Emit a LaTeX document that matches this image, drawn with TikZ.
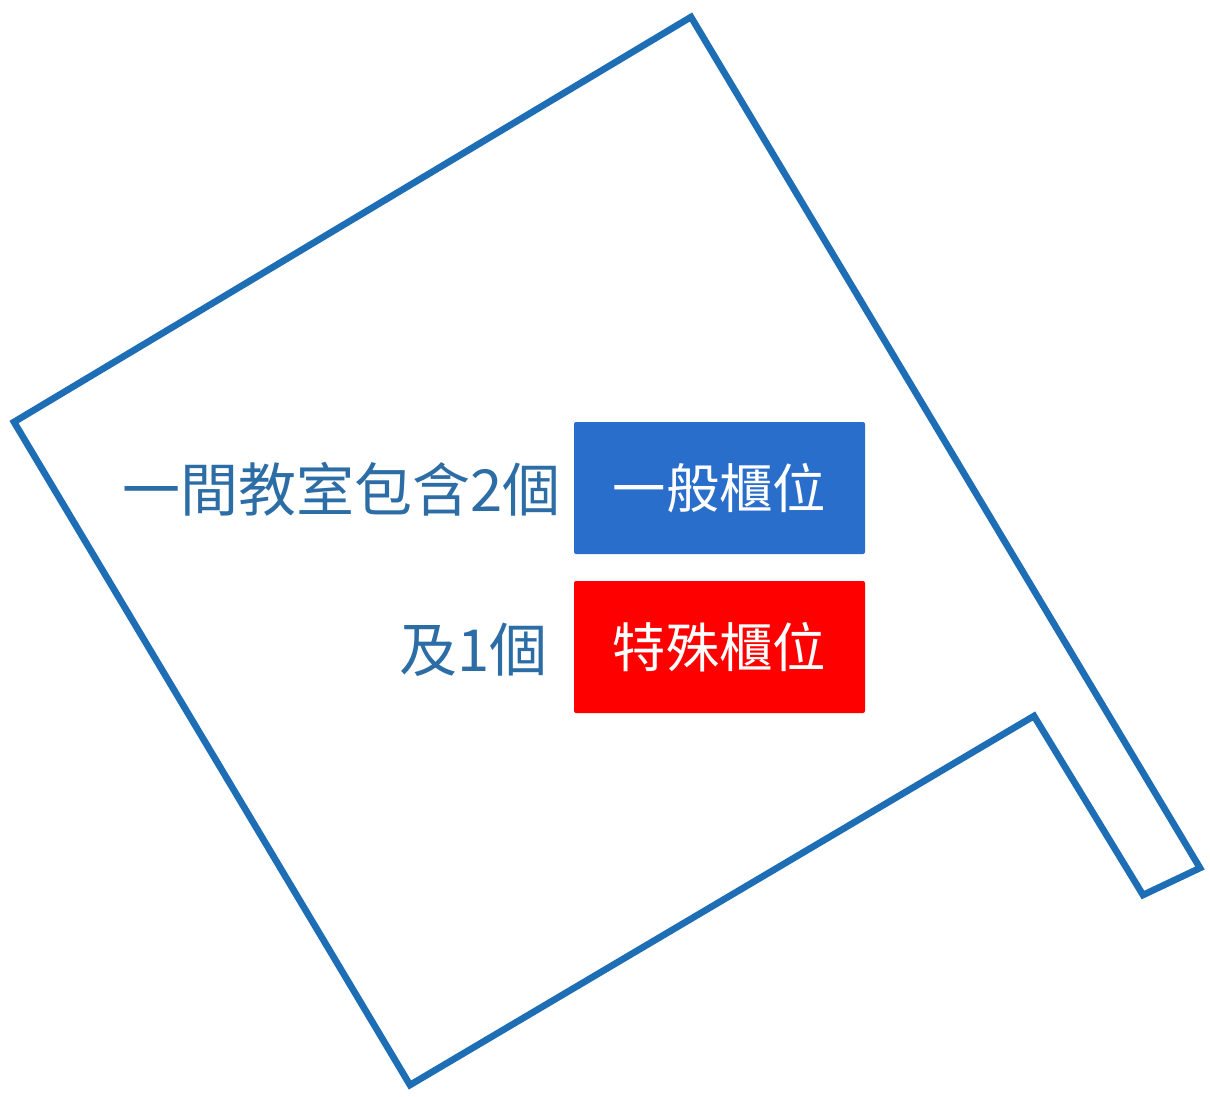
\documentclass[tikz,border=0pt]{standalone}
\usepackage{fontspec}
\newfontfamily\cjk{Noto Sans CJK TC}
\definecolor{wallblue}{HTML}{1E6EB6}
\definecolor{textblue}{HTML}{2D6DA6}
\definecolor{boxblue}{HTML}{2A6ECB}
\definecolor{boxred}{HTML}{FF0000}
\tikzset{
  wall/.style={draw=wallblue, line width=5pt, line join=miter},
  tag/.style={rounded corners=1.5pt, minimum width=291*0.75pt, minimum height=132*0.75pt, inner sep=0pt, text=white, font=\cjk\fontsize{40pt}{40pt}\selectfont},
  lbl/.style={anchor=east, inner sep=0pt, text=textblue, font=\cjk\fontsize{43.5pt}{43.5pt}\selectfont}
}
\begin{document}
\begin{tikzpicture}[x=0.75pt, y=-0.75pt]
\useasboundingbox (0,0) rectangle (1210,1096);
\fill[white] (0,0) rectangle (1210,1096);
\coordinate (p1) at (691,17);
\coordinate (p2) at (14,422);
\coordinate (p3) at (410,1085);
\coordinate (p4) at (1034,716);
\coordinate (p5) at (1143,895);
\coordinate (p6) at (1200,868);
\draw[wall] (p1) -- (p2) -- (p3) -- (p4) -- (p5) -- (p6) -- cycle;
\node[tag, fill=boxblue] (general) at (719.5,488) {一般櫃位};
\node[tag, fill=boxred] (special) at (719.5,647) {特殊櫃位};
\node[lbl] (line1) at (561,489) {一間教室包含2個};
\node[lbl] (line2) at (548,650) {及1個};
\end{tikzpicture}
\end{document}
